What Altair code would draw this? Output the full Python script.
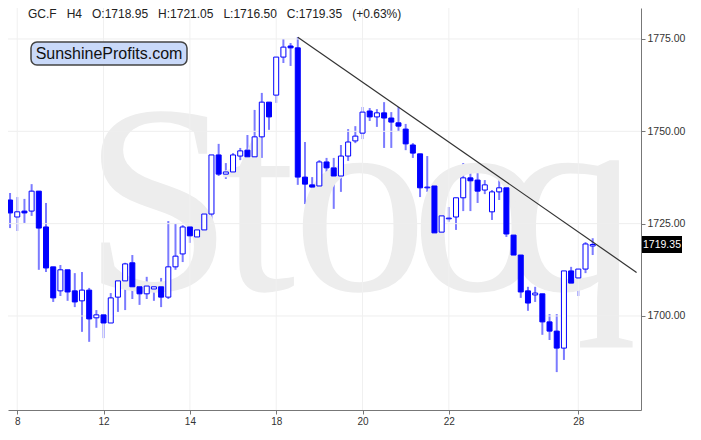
import altair as alt
import pandas as pd

# ---- data (GC.F, H4 candles) ----
opens = [1731.4, 1726.8, 1728.4, 1728.4, 1733.8, 1724.1, 1713.3, 1706.8, 1712.5, 1706.8,
         1704.1, 1707.0, 1699.5, 1700.3, 1698.1, 1705.1, 1709.5, 1714.4, 1707.9, 1706.0,
         1707.3, 1707.9, 1705.1, 1713.3, 1716.8, 1724.1, 1721.4, 1723.3, 1727.6, 1743.6,
         1738.4, 1739.0, 1743.3, 1744.9, 1743.1, 1748.5, 1757.9, 1759.8, 1770.1, 1773.1,
         1772.6, 1737.6, 1735.5, 1735.2, 1741.7, 1740.1, 1737.9, 1743.3, 1747.4, 1749.5,
         1755.5, 1753.9, 1755.0, 1753.6, 1752.3, 1750.6, 1746.3, 1743.9, 1734.7, 1735.2,
         1722.7, 1726.3, 1726.8, 1732.0, 1737.4, 1736.8, 1734.1, 1728.2, 1733.6, 1734.7,
         1721.9, 1716.5, 1706.8, 1705.7, 1706.0, 1698.4, 1695.9, 1691.3, 1712.2, 1710.3,
         1712.7, 1718.95]
highs = [1733.3, 1732.2, 1731.7, 1735.7, 1733.8, 1730.6, 1713.3, 1713.8, 1712.5, 1711.6,
         1711.9, 1707.6, 1701.6, 1700.3, 1706.2, 1710.3, 1714.4, 1716.5, 1708.4, 1710.6,
         1708.1, 1710.3, 1725.7, 1724.9, 1724.6, 1728.2, 1723.3, 1728.7, 1743.6, 1746.6,
         1741.4, 1744.1, 1745.5, 1749.0, 1755.8, 1760.4, 1757.9, 1770.1, 1775.0, 1773.9,
         1775.5, 1747.1, 1737.6, 1742.2, 1742.8, 1742.8, 1746.3, 1750.6, 1751.4, 1756.6,
         1756.3, 1756.0, 1757.9, 1755.2, 1756.6, 1752.0, 1746.8, 1743.9, 1743.3, 1735.2,
         1727.1, 1729.5, 1732.0, 1741.4, 1740.9, 1739.5, 1736.8, 1734.1, 1736.8, 1734.7,
         1729.8, 1716.5, 1707.9, 1707.9, 1706.0, 1700.5, 1700.5, 1712.2, 1713.3, 1712.7,
         1720.0, 1721.05]
lows = [1723.8, 1723.0, 1725.2, 1727.1, 1712.5, 1711.9, 1703.8, 1705.4, 1704.1, 1702.4,
        1695.7, 1693.0, 1696.8, 1694.0, 1698.1, 1701.1, 1701.6, 1704.6, 1703.0, 1704.6,
        1704.1, 1702.4, 1704.6, 1712.5, 1714.6, 1719.8, 1720.0, 1721.4, 1717.3, 1737.9,
        1737.1, 1738.2, 1742.2, 1741.4, 1738.2, 1742.8, 1750.4, 1757.7, 1768.5, 1767.7,
        1735.5, 1730.3, 1732.5, 1734.4, 1737.4, 1729.0, 1733.6, 1742.0, 1746.8, 1747.9,
        1752.8, 1751.2, 1745.5, 1745.5, 1750.1, 1744.9, 1742.8, 1732.2, 1733.6, 1716.2,
        1720.8, 1725.5, 1723.3, 1728.4, 1728.4, 1730.6, 1733.0, 1726.0, 1731.4, 1721.4,
        1714.4, 1704.9, 1701.4, 1703.8, 1694.9, 1693.5, 1684.8, 1688.1, 1708.4, 1705.4,
        1711.6, 1716.5]
closes = [1727.9, 1728.2, 1727.9, 1733.8, 1723.8, 1713.0, 1704.9, 1712.5, 1706.5, 1703.8,
          1707.0, 1699.2, 1700.3, 1698.1, 1704.9, 1709.5, 1714.1, 1707.9, 1706.0, 1708.1,
          1707.9, 1705.1, 1713.3, 1716.2, 1724.1, 1721.7, 1723.3, 1727.6, 1743.6, 1738.4,
          1739.0, 1743.6, 1744.7, 1743.1, 1748.5, 1757.9, 1753.9, 1770.1, 1772.8, 1772.6,
          1737.6, 1735.7, 1734.9, 1741.7, 1740.1, 1737.9, 1743.3, 1747.1, 1748.7, 1755.2,
          1753.9, 1755.0, 1753.6, 1752.5, 1751.4, 1746.6, 1744.1, 1734.7, 1734.9, 1722.5,
          1727.1, 1726.5, 1732.0, 1737.4, 1736.6, 1733.8, 1735.5, 1733.6, 1734.7, 1722.2,
          1716.5, 1706.5, 1703.5, 1706.2, 1698.4, 1695.9, 1691.3, 1712.2, 1708.9, 1712.7,
          1719.5, 1719.35]

day_index = [1, 13, 25, 37, 49, 61, 79]
day_labels = ["8", "12", "14", "18", "20", "22", "28"]
price_ticks = [1700, 1725, 1750, 1775]
trend_index = [40, 87.1]
trend_price = [1775.5, 1711.8]
last_price = 1719.35
header_parts = ["GC.F", "H4", "O:1718.95", "H:1721.05", "L:1716.50", "C:1719.35", "(+0.63%)"]
brand = "SunshineProfits.com"
watermark = ["S", "t", "o", "o", "q"]

# ---- layout ----
W, H = 633, 402
x_dom = [0.41, 87.02]
y_dom = [1674.54, 1783.39]
BLUE = "#0000ff"
FONT = "Liberation Sans"
NB = "\u00a0"
header = (NB * 3).join(header_parts)

df = pd.DataFrame({"i": list(range(len(opens))), "open": opens, "high": highs,
                   "low": lows, "close": closes})
df["up"] = df["close"] >= df["open"]

xs = alt.Scale(domain=x_dom, nice=False, zero=False)
ys = alt.Scale(domain=y_dom, nice=False, zero=False)

expr = "''"
for v, l in reversed(list(zip(day_index, day_labels))):
    expr = f"datum.value == {v} ? '{l}' : ({expr})"

x_axis = alt.Axis(values=day_index, labelExpr=expr, grid=False, title=None,
                  domainColor="#777777", tickColor="#777777", tickSize=4,
                  labelFont=FONT, labelFontSize=10, labelColor="#333333", labelPadding=2)
y_axis = alt.Axis(orient="right", values=price_ticks, format=".2f", grid=False, title=None,
                  domainColor="#777777", tickColor="#777777", tickSize=4,
                  labelFont=FONT, labelFontSize=10.5, labelColor="#333333", labelPadding=2)

X = lambda f: alt.X(f, scale=xs, axis=x_axis)
Y = lambda f: alt.Y(f, scale=ys, axis=y_axis)

# watermark
wm_x = [150, 250, 352, 470, 562]
wm_layers = []
for ch, cx in zip(watermark, wm_x):
    wm_layers.append(
        alt.Chart(pd.DataFrame({"t": [ch]})).mark_text(
            font="Liberation Serif", fontSize=270, color="#ededed",
            align="center", baseline="alphabetic"
        ).encode(x=alt.value(cx), y=alt.value(282), text="t:N")
    )

base = alt.Chart(df)
wicks = base.mark_rule(color="#7b7bff", strokeWidth=2, clip=True).encode(
    x=X("i:Q"), y=Y("low:Q"), y2="high:Q")
bodies = base.mark_bar(size=5, stroke=BLUE, strokeWidth=1, clip=True).encode(
    x=X("i:Q"), y=Y("open:Q"), y2="close:Q",
    fill=alt.condition("datum.up", alt.value("white"), alt.value(BLUE)),
)

grid_h = alt.Chart(pd.DataFrame({"p": price_ticks})).mark_rule(
    color="#eeeeee", strokeWidth=1).encode(y=Y("p:Q"))
grid_v = alt.Chart(pd.DataFrame({"d": day_index})).mark_rule(
    color="#f0f0f0", strokeWidth=1).encode(x=X("d:Q"))

trend = alt.Chart(pd.DataFrame({"ti": trend_index, "tp": trend_price})).mark_line(
    color="#333333", strokeWidth=1.2, clip=True).encode(x=X("ti:Q"), y=Y("tp:Q"))

hdr = alt.Chart(pd.DataFrame({"t": [header]})).mark_text(
    align="left", baseline="alphabetic", font=FONT, fontSize=12, color="#222222"
).encode(x=alt.value(20), y=alt.value(10), text="t:N")

brand_box = alt.Chart(pd.DataFrame({"t": [brand]})).mark_rect(
    cornerRadius=6, fill="#c9d9f9", stroke="#444444", strokeWidth=1.5
).encode(x=alt.value(23), x2=alt.value(179), y=alt.value(34), y2=alt.value(57))
brand_txt = alt.Chart(pd.DataFrame({"t": [brand]})).mark_text(
    font=FONT, fontSize=16, color="#111111", align="center", baseline="middle"
).encode(x=alt.value(101), y=alt.value(46), text="t:N")

lp = pd.DataFrame({"p": [last_price], "hi": [last_price + 2.3], "lo": [last_price - 2.3],
                   "t": [f"{last_price:.2f}"]})
lp_box = alt.Chart(lp).mark_rect(fill="black").encode(
    x=alt.value(634), x2=alt.value(674), y=Y("hi:Q"), y2="lo:Q")
lp_txt = alt.Chart(lp).mark_text(font=FONT, fontSize=10.5, color="white",
                                 align="center", baseline="middle").encode(
    x=alt.value(654), y=Y("p:Q"), text="t:N")

chart = alt.layer(
    wicks, *wm_layers, grid_h, grid_v, bodies, trend, hdr, brand_box, brand_txt, lp_box, lp_txt
).properties(
    width=W, height=H,
    autosize=alt.AutoSizeParams(type="none"),
    padding={"left": 0, "top": 0, "right": 52, "bottom": 22},
    background="white",
).configure_view(stroke=None)

chart.save("out.html", embed_options={"renderer": "svg", "actions": False})
